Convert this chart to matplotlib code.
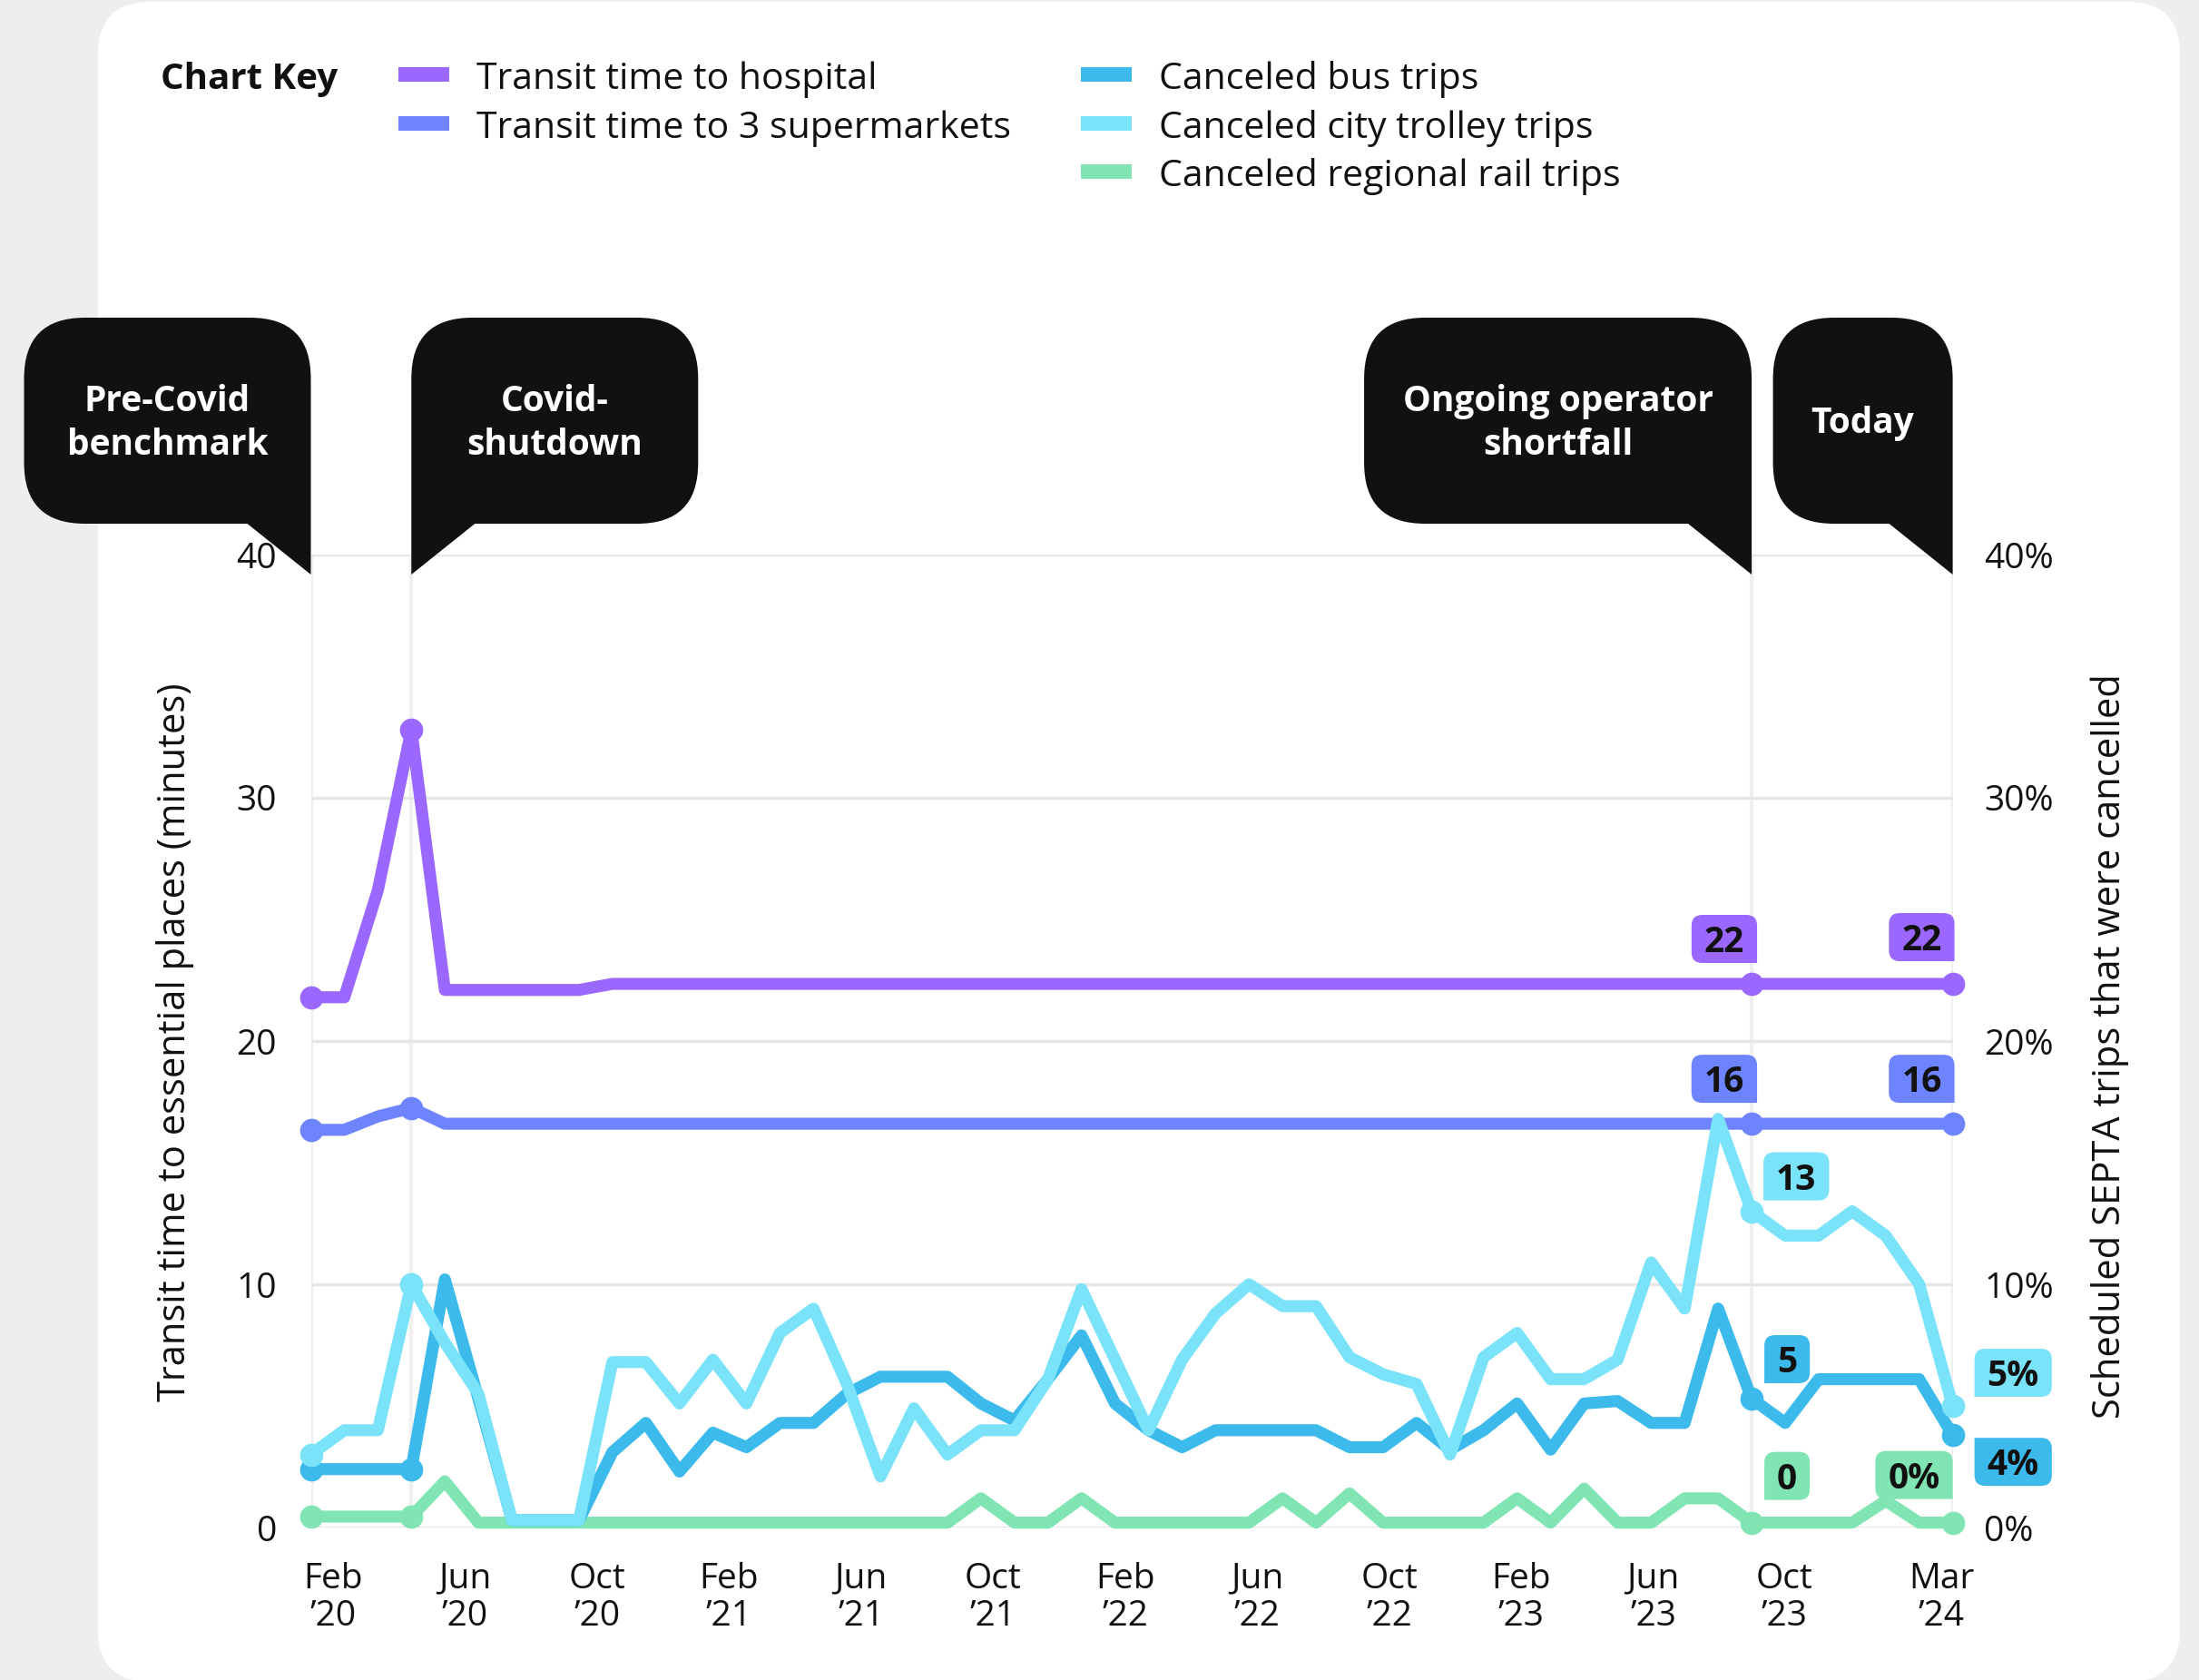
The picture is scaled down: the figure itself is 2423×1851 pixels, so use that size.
import numpy as np
import matplotlib
matplotlib.use("Agg")
import matplotlib.pyplot as plt
import matplotlib.transforms as mtransforms
from matplotlib.path import Path
from matplotlib.patches import PathPatch, Rectangle

plt.rcParams['font.family'] = ['Open Sans', 'DejaVu Sans']

# monthly points, Feb 2020 .. Mar 2024
months = list(range(50))

hospital = [21.8, 21.8, 26.2, 32.8, 22.1, 22.1, 22.1, 22.1, 22.1, 22.35,
            22.35, 22.35, 22.35, 22.35, 22.35, 22.35, 22.35, 22.35, 22.35, 22.35,
            22.35, 22.35, 22.35, 22.35, 22.35, 22.35, 22.35, 22.35, 22.35, 22.35,
            22.35, 22.35, 22.35, 22.35, 22.35, 22.35, 22.35, 22.35, 22.35, 22.35,
            22.35, 22.35, 22.35, 22.35, 22.35, 22.35, 22.35, 22.35, 22.35, 22.35]
supermarkets = [16.35, 16.35, 16.9, 17.25, 16.6, 16.6, 16.6, 16.6, 16.6, 16.6,
                16.6, 16.6, 16.6, 16.6, 16.6, 16.6, 16.6, 16.6, 16.6, 16.6,
                16.6, 16.6, 16.6, 16.6, 16.6, 16.6, 16.6, 16.6, 16.6, 16.6,
                16.6, 16.6, 16.6, 16.6, 16.6, 16.6, 16.6, 16.6, 16.6, 16.6,
                16.6, 16.6, 16.6, 16.6, 16.6, 16.6, 16.6, 16.6, 16.6, 16.6]
bus = [2.4, 2.4, 2.4, 2.4, 10.2, 5.3, 0.3, 0.3, 0.3, 3.1,
       4.3, 2.3, 3.9, 3.3, 4.3, 4.3, 5.5, 6.2, 6.2, 6.2,
       5.1, 4.4, 6.1, 7.9, 5.1, 4.0, 3.3, 4.0, 4.0, 4.0,
       4.0, 3.3, 3.3, 4.3, 3.2, 4.0, 5.1, 3.2, 5.1, 5.2,
       4.3, 4.3, 9.0, 5.3, 4.3, 6.1, 6.1, 6.1, 6.1, 3.8]
trolley = [3.0, 4.0, 4.0, 10.0, 7.6, 5.5, 0.3, 0.3, 0.3, 6.8,
           6.8, 5.1, 6.9, 5.1, 8.0, 9.0, 5.9, 2.1, 4.9, 3.0,
           4.0, 4.0, 6.1, 9.8, 6.9, 4.0, 6.9, 8.8, 10.0, 9.1,
           9.1, 7.0, 6.3, 5.9, 3.0, 7.0, 8.0, 6.1, 6.1, 6.9,
           10.9, 9.0, 16.8, 13.0, 12.0, 12.0, 13.0, 12.0, 10.0, 5.0]
rail = [0.45, 0.45, 0.45, 0.45, 1.9, 0.2, 0.2, 0.2, 0.2, 0.2,
        0.2, 0.2, 0.2, 0.2, 0.2, 0.2, 0.2, 0.2, 0.2, 0.2,
        1.2, 0.2, 0.2, 1.2, 0.2, 0.2, 0.2, 0.2, 0.2, 1.2,
        0.2, 1.4, 0.2, 0.2, 0.2, 0.2, 1.2, 0.2, 1.6, 0.2,
        0.2, 1.2, 1.2, 0.2, 0.2, 0.2, 0.2, 1.1, 0.2, 0.2]

names = ["Transit time to hospital", "Transit time to 3 supermarkets",
         "Canceled bus trips", "Canceled city trolley trips", "Canceled regional rail trips"]
colors = ["#9a68ff", "#6e84ff", "#3dbaec", "#7ae3fa", "#80e5b2"]
values = [hospital, supermarkets, bus, trolley, rail]
draw_order = [0, 1, 4, 2, 3]

tick_pos = [0.66, 4.6, 8.54, 12.48, 16.42, 20.36, 24.3, 28.24, 32.18, 36.12, 40.06, 43.97, 48.67]
tick_labels = ["Feb\n\u201920", "Jun\n\u201920", "Oct\n\u201920", "Feb\n\u201921", "Jun\n\u201921",
               "Oct\n\u201921", "Feb\n\u201922", "Jun\n\u201922", "Oct\n\u201922", "Feb\n\u201923",
               "Jun\n\u201923", "Oct\n\u201923", "Mar\n\u201924"]

event_idx = [0, 3, 43, 49]
event_text = ["Pre-Covid\nbenchmark", "Covid-\nshutdown", "Ongoing operator\nshortfall", "Today"]
event_side = ["left", "right", "left", "left"]
event_width = [316, 316, 427, 198]

# (series, point, text, square corner, dx, dy) offsets in pixels
badges = [(0, 43, "22", "br", 6, 23), (0, 49, "22", "br", 2, 25),
          (1, 43, "16", "br", 6, 23), (1, 49, "16", "br", 2, 23),
          (3, 43, "13", "bl", 13, 12), (2, 43, "5", "bl", 14, 17),
          (4, 43, "0", "bl", 14, 25), (4, 49, "0%", "br", 0, 26),
          (3, 49, "5%", "bl", 24, 10), (2, 49, "4%", "tl", 24, -3)]

W, H = 2423, 1851
ink = "#111111"
ident = mtransforms.IdentityTransform()


def rounded_poly(pts, radii):
    verts, codes = [], []
    n = len(pts)
    for k in range(n):
        p = np.array(pts[k], float)
        prv = np.array(pts[k - 1], float)
        nxt = np.array(pts[(k + 1) % n], float)
        r = radii[k]
        if r == 0:
            verts.append(p)
            codes.append(Path.LINETO)
        else:
            a = p + (prv - p) / np.linalg.norm(prv - p) * r
            b = p + (nxt - p) / np.linalg.norm(nxt - p) * r
            verts += [a, p, b]
            codes += [Path.LINETO, Path.CURVE3, Path.CURVE3]
    codes[0] = Path.MOVETO
    verts.append(verts[0])
    codes.append(Path.CLOSEPOLY)
    return Path(verts, codes)


fig = plt.figure(figsize=(W / 100, H / 100), dpi=100)
fig.patch.set_facecolor("#eeeeee")

# white card
card = [(108, H - 2), (2402, H - 2), (2402, H - 1853), (108, H - 1853)]
fig.add_artist(PathPatch(rounded_poly(card, [58] * 4), facecolor="white",
                         edgecolor="none", transform=ident, zorder=-10))

ax = fig.add_axes([342.5 / W, 1 - 1683 / H, (2151.6 - 342.5) / W, (1683 - 611) / H])
ax.set_xlim(0, 49)
ax.set_ylim(0, 40)
ax.patch.set_visible(False)
for s in ax.spines.values():
    s.set_visible(False)
ax.set_yticks([0, 10, 20, 30, 40])
ax.grid(axis="y", color="#e6e6e6", lw=2.5)
ax.set_axisbelow(True)
ax.vlines(event_idx, 0, 40, color="#f0f0f0", lw=3.2, zorder=0.5)

for i in draw_order:
    ax.plot(months, values[i], color=colors[i], lw=9.5, marker="o", ms=18.5, mew=0,
            markevery=event_idx, clip_on=False, solid_joinstyle="round",
            solid_capstyle="round", zorder=2 + draw_order.index(i))

ax.set_xticks(tick_pos, tick_labels)
ax.tick_params(axis="x", length=0, pad=27, labelsize=28, labelcolor=ink)
ax.tick_params(axis="y", length=0, pad=27, labelsize=28, labelcolor=ink)
for t in ax.get_xticklabels():
    t.set_linespacing(1.12)

ax2 = ax.twinx()
ax2.set_ylim(0, 40)
ax2.set_yticks([0, 10, 20, 30, 40], ["0%", "10%", "20%", "30%", "40%"])
ax2.tick_params(axis="y", length=0, pad=25, labelsize=28, labelcolor=ink)
for s in ax2.spines.values():
    s.set_visible(False)

fig.text(193, H - 1148, "Transit time to essential places (minutes)", rotation=90,
         ha="center", va="center", fontsize=30, color=ink, transform=ident)
fig.text(2325, H - 1153, "Scheduled SEPTA trips that were cancelled", rotation=90,
         ha="center", va="center", fontsize=30, color=ink, transform=ident)

# chart key
fig.text(177, H - 98, "Chart Key", fontsize=29, weight="bold", color=ink,
         va="baseline", transform=ident)
key_pos = [(439, 0), (439, 1), (1191, 0), (1191, 1), (1191, 2)]
for i, (kx, row) in enumerate(key_pos):
    yc = 82 + 53.5 * row
    fig.add_artist(Rectangle((kx, H - yc - 8), 56, 16, facecolor=colors[i],
                             edgecolor="none", transform=ident))
    fig.text(kx + 86, H - (yc + 16), names[i], fontsize=29.5, color=ink,
             va="baseline", transform=ident)

# callouts
for idx, txt, side, w in zip(event_idx, event_text, event_side, event_width):
    tx, ty = ax.transData.transform((idx, 40))
    tip = ty - 22
    bot = tip + 56
    top = tip + 283
    r = 67
    if side == "left":
        pts = [(tx - w, top), (tx, top), (tx, tip), (tx - 70, bot), (tx - w, bot)]
        rad = [r, r, 0, 0, r]
        cx = tx - w / 2
    else:
        pts = [(tx, top), (tx + w, top), (tx + w, bot), (tx + 70, bot), (tx, tip)]
        rad = [r, r, r, 0, 0]
        cx = tx + w / 2
    fig.add_artist(PathPatch(rounded_poly(pts, rad), facecolor=ink, edgecolor="none",
                             transform=ident, zorder=10))
    fig.text(cx, (top + bot) / 2 - 3, txt, ha="center", va="center", fontsize=28,
             weight="bold", color="white", linespacing=1.28, transform=ident, zorder=11)

# value badges
renderer = fig.canvas.get_renderer()
for si, idx, txt, corner, dx, dy in badges:
    px, py = ax.transData.transform((idx, values[si][idx]))
    t = fig.text(0, 0, txt, fontsize=28, weight="bold", color=ink, ha="center",
                 va="baseline", transform=ident, zorder=13)
    bw = t.get_window_extent(renderer).width + 28
    bh = 53
    if corner == "br":
        x0, y0 = px + dx - bw, py + dy
    elif corner == "bl":
        x0, y0 = px + dx, py + dy
    else:
        x0, y0 = px + dx, py + dy - bh
    pts = [(x0, y0), (x0 + bw, y0), (x0 + bw, y0 + bh), (x0, y0 + bh)]
    rad = [12, 12, 12, 12]
    rad[{"bl": 0, "br": 1, "tl": 3}[corner]] = 0
    fig.add_artist(PathPatch(rounded_poly(pts, rad), facecolor=colors[si],
                             edgecolor="none", transform=ident, zorder=12))
    t.set_position((x0 + bw / 2, y0 + bh / 2 - 14.5))

fig.savefig("out.png", dpi=100, facecolor=fig.get_facecolor())
